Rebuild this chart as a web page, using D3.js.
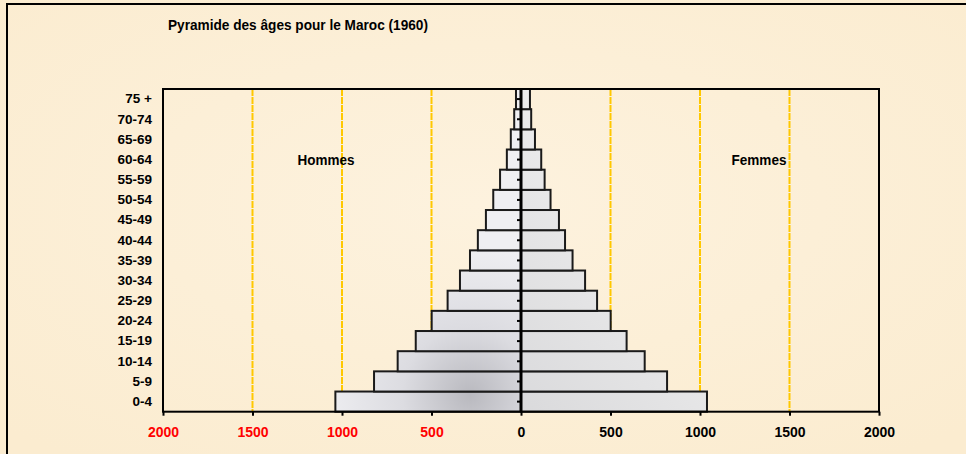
<!DOCTYPE html>
<html lang="fr">
<head>
<meta charset="UTF-8">
<title>Pyramide des âges pour le Maroc (1960)</title>
<script src="https://d3js.org/d3.v7.min.js"></script>
<style>
  body { margin: 0; background: #fcf0da; }
  svg text { font-family: Arial, "Liberation Sans", sans-serif; font-weight: bold; }
</style>
</head>
<body>
<script>
// tranches d'âge, de la plus jeune à la plus âgée
var ages = ["0-4", "5-9", "10-14", "15-19", "20-24", "25-29", "30-34", "35-39",
            "40-44", "45-49", "50-54", "55-59", "60-64", "65-69", "70-74", "75 +"];
// effectifs en milliers
var hommes = [1037, 821, 689, 588, 499, 410, 341, 285, 241, 196, 155, 117, 79, 57, 38, 28];
var femmes = [1039, 816, 691, 590, 501, 425, 358, 288, 246, 212, 165, 132, 113, 78, 57, 50];
var ticks = [-2000, -1500, -1000, -500, 0, 500, 1000, 1500, 2000];
var titre = "Pyramide des âges pour le Maroc (1960)";

var W = 966, H = 454;
var svg = d3.select("body").append("svg").attr("width", W).attr("height", H);

var defs = svg.append("defs");
var bg = defs.append("radialGradient").attr("id", "bg").attr("cx", "50%").attr("cy", "45%").attr("r", "70%");
bg.append("stop").attr("offset", "0%").attr("stop-color", "#fdf2de");
bg.append("stop").attr("offset", "100%").attr("stop-color", "#fbecd0");

var gm = defs.append("radialGradient").attr("id", "marbreH")
  .attr("gradientUnits", "userSpaceOnUse").attr("cx", 470).attr("cy", 395).attr("r", 150);
gm.append("stop").attr("offset", "0%").attr("stop-color", "#b9b9bf");
gm.append("stop").attr("offset", "45%").attr("stop-color", "#dcdce1");
gm.append("stop").attr("offset", "100%").attr("stop-color", "#efeff2");

var gf = defs.append("linearGradient").attr("id", "marbreF")
  .attr("gradientUnits", "userSpaceOnUse").attr("x1", 521).attr("y1", 411).attr("x2", 700).attr("y2", 250);
gf.append("stop").attr("offset", "0%").attr("stop-color", "#dadadc");
gf.append("stop").attr("offset", "100%").attr("stop-color", "#eeeeee");

// fond + cadre
svg.append("rect").attr("width", W).attr("height", H).attr("fill", "url(#bg)");
svg.append("rect").attr("x", 7).attr("y", 4).attr("width", W + 10).attr("height", H + 10)
  .attr("fill", "none").attr("stroke", "#000").attr("stroke-width", 2);

var pLeft = 163, pRight = 879, pTop = 89, pBottom = 411.7;
var x = d3.scaleLinear().domain([-2000, 2000]).range([pLeft, pRight]);
var y = d3.scaleBand().domain(ages.slice().reverse()).range([pTop, pBottom]).padding(0);

// quadrillage
svg.append("g").selectAll("line").data(ticks.filter(function (d) { return d !== 0 && Math.abs(d) < 2000; }))
  .enter().append("line")
  .attr("x1", function (d) { return x(d); }).attr("x2", function (d) { return x(d); })
  .attr("y1", pTop).attr("y2", pBottom)
  .attr("stroke", "#ffc800").attr("stroke-width", 2).attr("stroke-dasharray", "7,1");

// barres
svg.append("g").selectAll("rect").data(ages).enter().append("rect")
  .attr("x", function (d, i) { return x(-hommes[i]); })
  .attr("y", function (d) { return y(d); })
  .attr("width", function (d, i) { return x(0) - x(-hommes[i]); })
  .attr("height", y.bandwidth())
  .attr("fill", "url(#marbreH)").attr("stroke", "#1a1a1a").attr("stroke-width", 2);

svg.append("g").selectAll("rect").data(ages).enter().append("rect")
  .attr("x", x(0))
  .attr("y", function (d) { return y(d); })
  .attr("width", function (d, i) { return x(femmes[i]) - x(0); })
  .attr("height", y.bandwidth())
  .attr("fill", "url(#marbreF)").attr("stroke", "#1a1a1a").attr("stroke-width", 2);

// cadre de la zone de tracé
svg.append("rect").attr("x", pLeft).attr("y", pTop).attr("width", pRight - pLeft).attr("height", pBottom - pTop)
  .attr("fill", "none").attr("stroke", "#000").attr("stroke-width", 2);

// axe vertical central
svg.append("line").attr("x1", x(0)).attr("x2", x(0)).attr("y1", pTop).attr("y2", pBottom)
  .attr("stroke", "#000").attr("stroke-width", 3);
svg.append("g").selectAll("line").data(ages).enter().append("line")
  .attr("x1", x(0) - 4).attr("x2", x(0))
  .attr("y1", function (d) { return y(d) + y.bandwidth() / 2; })
  .attr("y2", function (d) { return y(d) + y.bandwidth() / 2; })
  .attr("stroke", "#000").attr("stroke-width", 2);

// axe horizontal
var xAxis = svg.append("g").attr("transform", "translate(0," + pBottom + ")")
  .call(d3.axisBottom(x).tickValues(ticks).tickSize(4).tickPadding(11)
    .tickFormat(function (d) { return Math.abs(d); }));
xAxis.select(".domain").remove();
xAxis.selectAll("line").attr("stroke", "#000").attr("stroke-width", 2);
xAxis.selectAll("text").attr("font-size", 14).attr("font-family", null)
  .attr("fill", function (d) { return d < 0 ? "#ff0000" : "#000"; });

// axe des âges
var yAxis = svg.append("g").attr("transform", "translate(" + pLeft + ",0)")
  .call(d3.axisLeft(y).tickSize(0).tickPadding(11));
yAxis.select(".domain").remove();
yAxis.selectAll("text").attr("font-size", 13.5).attr("font-family", null).attr("fill", "#000");

// textes
svg.append("text").attr("x", 168).attr("y", 29.5).attr("font-size", 15)
  .attr("textLength", 260).attr("lengthAdjust", "spacingAndGlyphs").text(titre);
svg.append("text").attr("x", 297.5).attr("y", 165).attr("font-size", 15)
  .attr("textLength", 57).attr("lengthAdjust", "spacingAndGlyphs").text("Hommes");
svg.append("text").attr("x", 731.5).attr("y", 165).attr("font-size", 15)
  .attr("textLength", 55).attr("lengthAdjust", "spacingAndGlyphs").text("Femmes");
</script>
</body>
</html>
